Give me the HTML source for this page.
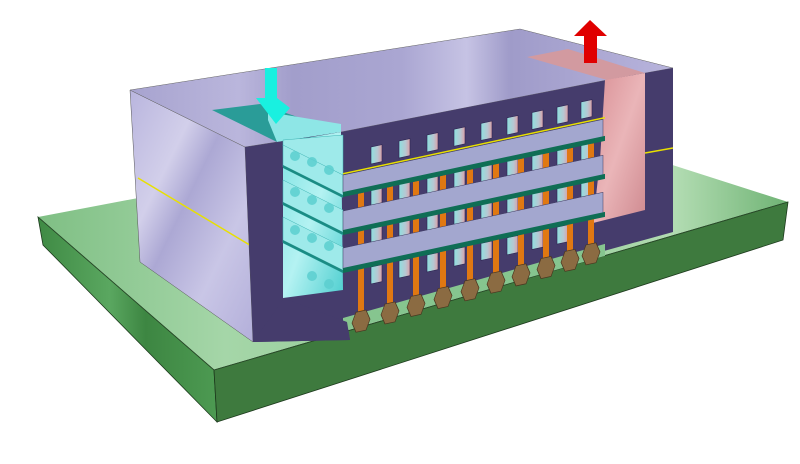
<!DOCTYPE html>
<html><head><meta charset="utf-8"><style>html,body{margin:0;padding:0;background:#fff}svg{display:block}</style></head>
<body>
<svg width="800" height="464" viewBox="0 0 800 464" xmlns="http://www.w3.org/2000/svg">
<defs>
<linearGradient id="top" x1="0" y1="0" x2="1" y2="0">
<stop offset="0" stop-color="#a7a3cf"/><stop offset="0.2" stop-color="#bab6dc"/><stop offset="0.3" stop-color="#a29ecb"/><stop offset="0.5" stop-color="#aaa6d2"/><stop offset="0.62" stop-color="#c6c3e4"/><stop offset="0.7" stop-color="#9f9bc9"/><stop offset="1" stop-color="#b8b4dc"/></linearGradient>
<linearGradient id="left" x1="0" y1="0" x2="1" y2="1">
<stop offset="0" stop-color="#b9b5de"/><stop offset="0.3" stop-color="#d2cfea"/><stop offset="0.45" stop-color="#aca8d4"/><stop offset="0.7" stop-color="#c9c6e6"/><stop offset="1" stop-color="#b3afda"/></linearGradient>
<linearGradient id="btop" x1="0" y1="0" x2="1" y2="0">
<stop offset="0" stop-color="#7fbf84"/><stop offset="0.25" stop-color="#a5d6a8"/><stop offset="0.6" stop-color="#8cc890"/><stop offset="0.85" stop-color="#b2dcb2"/><stop offset="1" stop-color="#6fb374"/></linearGradient>
<linearGradient id="bleft" x1="0" y1="0" x2="1" y2="0">
<stop offset="0" stop-color="#3f8a44"/><stop offset="0.4" stop-color="#5aa760"/><stop offset="0.6" stop-color="#3d8642"/><stop offset="1" stop-color="#4d9a52"/></linearGradient>
<linearGradient id="cyan" x1="0" y1="0" x2="1" y2="1">
<stop offset="0" stop-color="#7fe3e3"/><stop offset="0.5" stop-color="#b4f2f2"/><stop offset="1" stop-color="#4fcfd0"/></linearGradient>
<linearGradient id="pink" x1="0" y1="0" x2="1" y2="1">
<stop offset="0" stop-color="#d98f95"/><stop offset="0.5" stop-color="#eab5b8"/><stop offset="1" stop-color="#cf8a90"/></linearGradient>
<linearGradient id="win" x1="0" y1="0" x2="1" y2="0">
<stop offset="0" stop-color="#8fe0e0"/><stop offset="0.6" stop-color="#b7c7d2"/><stop offset="1" stop-color="#d9a0a8"/></linearGradient>
</defs>

<!-- board -->
<polygon points="38,217 538,122 788,202 214,370" fill="url(#btop)"/>
<polygon points="38,217 214,370 217,422 43,245" fill="url(#bleft)" stroke="#1d3a1d" stroke-width="0.8"/>
<polygon points="214,370 788,202 783,240 217,422" fill="#3e7a3e" stroke="#1d3a1d" stroke-width="0.8"/>
<polyline points="38,217 214,370 788,202" fill="none" stroke="#2a4a2a" stroke-width="0.8"/>

<!-- box left face -->
<polygon points="130,90 245,147 253,342 140,262" fill="url(#left)" stroke="#555" stroke-width="0.5"/>
<polyline points="138,178 253,247 283,242" fill="none" stroke="#e8e000" stroke-width="1.5"/>

<!-- top face -->
<polygon points="130,90 520,29 673,68 607,80 341,132 277,142 245,147" fill="url(#top)" stroke="#666" stroke-width="0.5"/>
<polygon points="212,110 260,104 341,132 277,142" fill="#2a9c98"/>
<polygon points="268,112 341,124 341,132 277,142 268,120" fill="#8ee6e6"/>
<polygon points="527,57 568,49 645,73 607,80" fill="#d29aa0"/>

<!-- dark front face -->
<polygon points="245,147 277,142 341,132 607,80 645,73 673,68 673,232 593,254 347,320 350,340 253,342" fill="#453c6c"/>

<!-- left cavity (cyan) -->
<polygon points="283,142 341,132 343,290 283,298" fill="url(#cyan)"/>
<g fill="#9eeaea" stroke="#3fb5b5" stroke-width="0.5">
<polygon points="343,135 343,175 283,146 283,140"/>
<polygon points="343,175 343,197 283,167 283,145" />
<polygon points="343,210 343,235 283,205 283,180"/>
<polygon points="343,247 343,273 283,243 283,217"/>
</g>
<g fill="#1a8c84"><polygon points="343,195 343,198 283,168 283,165"/><polygon points="343,232 343,235 283,205 283,202"/><polygon points="343,270 343,273 283,243 283,240"/></g>
<g fill="#5ccfd0" opacity="0.85">
<circle cx="295" cy="156" r="5"/><circle cx="312" cy="162" r="5"/><circle cx="329" cy="170" r="5"/>
<circle cx="295" cy="192" r="5"/><circle cx="312" cy="200" r="5"/><circle cx="329" cy="208" r="5"/>
<circle cx="295" cy="230" r="5"/><circle cx="312" cy="238" r="5"/><circle cx="329" cy="246" r="5"/>
<circle cx="312" cy="276" r="5"/><circle cx="329" cy="284" r="5"/>
</g>

<!-- right cavity (pink) -->
<polygon points="605,80 645,73 645,210 593,223 600,160" fill="url(#pink)"/>
<polyline points="645,153 673,148" stroke="#e8e000" stroke-width="1.5" fill="none"/>

<g transform="translate(343,0) skewY(-12.1)">
 <g fill="url(#win)" stroke="#2d2550" stroke-width="0.6">
  <rect x="28" y="153" width="11" height="17"/><rect x="56" y="153" width="11" height="17"/><rect x="84" y="153" width="11" height="17"/><rect x="111" y="153" width="11" height="17"/><rect x="138" y="153" width="11" height="17"/><rect x="164" y="153" width="11" height="17"/><rect x="189" y="153" width="11" height="17"/><rect x="214" y="153" width="11" height="17"/><rect x="238" y="153" width="11" height="17"/>
  <rect x="28" y="195" width="11" height="17"/><rect x="56" y="195" width="11" height="17"/><rect x="84" y="195" width="11" height="17"/><rect x="111" y="195" width="11" height="17"/><rect x="138" y="195" width="11" height="17"/><rect x="164" y="195" width="11" height="17"/><rect x="189" y="195" width="11" height="17"/><rect x="214" y="195" width="11" height="17"/><rect x="238" y="195" width="11" height="17"/>
  <rect x="28" y="233" width="11" height="17"/><rect x="56" y="233" width="11" height="17"/><rect x="84" y="233" width="11" height="17"/><rect x="111" y="233" width="11" height="17"/><rect x="138" y="233" width="11" height="17"/><rect x="164" y="233" width="11" height="17"/><rect x="189" y="233" width="11" height="17"/><rect x="214" y="233" width="11" height="17"/><rect x="238" y="233" width="11" height="17"/>
  <rect x="28" y="273" width="11" height="17"/><rect x="56" y="273" width="11" height="17"/><rect x="84" y="273" width="11" height="17"/><rect x="111" y="273" width="11" height="17"/><rect x="138" y="273" width="11" height="17"/><rect x="164" y="273" width="11" height="17"/><rect x="189" y="273" width="11" height="17"/><rect x="214" y="273" width="11" height="17"/>
 </g>
 <polygon points="0,318 262,300 262,312 0,331" fill="#86c58f"/>
 <g fill="#e07812">
  <rect x="15" y="197" width="6" height="126"/><rect x="44" y="197" width="6" height="124"/><rect x="70" y="197" width="6" height="122"/><rect x="97" y="197" width="6" height="121"/><rect x="124" y="197" width="6" height="119"/><rect x="150" y="197" width="6" height="118"/><rect x="175" y="197" width="6" height="116"/><rect x="200" y="197" width="6" height="115"/><rect x="224" y="197" width="6" height="113"/><rect x="245" y="197" width="6" height="112"/>
 </g>
 <g fill="#a3a7cf" stroke="#3d3a60" stroke-width="0.5">
  <rect x="0" y="175" width="260" height="18"/><rect x="0" y="211" width="260" height="20"/><rect x="0" y="248" width="260" height="21"/>
 </g>
 <g fill="#0f6e55"><rect x="0" y="192" width="262" height="5"/><rect x="0" y="230" width="262" height="5"/><rect x="0" y="268" width="262" height="5"/></g>
 <g fill="#e8e000"><rect x="0" y="173" width="262" height="1.5"/></g>
 <g fill="#8b6b42" stroke="#4a3620" stroke-width="0.7">
  <polygon points="9,325 13,315 23,315 27,325 23,335 13,335"/>
  <polygon points="38,323 42,313 52,313 56,323 52,333 42,333"/>
  <polygon points="64,321 68,311 78,311 82,321 78,331 68,331"/>
  <polygon points="91,319 95,309 105,309 109,319 105,329 95,329"/>
  <polygon points="118,317 122,307 132,307 136,317 132,327 122,327"/>
  <polygon points="144,315 148,305 158,305 162,315 158,325 148,325"/>
  <polygon points="169,313 173,303 183,303 187,313 183,323 173,323"/>
  <polygon points="194,311 198,301 208,301 212,311 208,321 198,321"/>
  <polygon points="218,309 222,299 232,299 236,309 232,319 222,319"/>
  <polygon points="239,307 243,297 253,297 257,307 253,317 243,317"/>
 </g>
</g>
<polygon points="253,342 350,340 347,322 283,298 283,300" fill="#453c6c"/>

<polygon points="265,68 277,68 277,98 290,108 276,124 256,98 265,98" fill="#19f0e0"/>
<polygon points="590,20 607,36 597,36 597,63 584,63 584,36 574,36" fill="#e00000"/>
</svg>
</body></html>
